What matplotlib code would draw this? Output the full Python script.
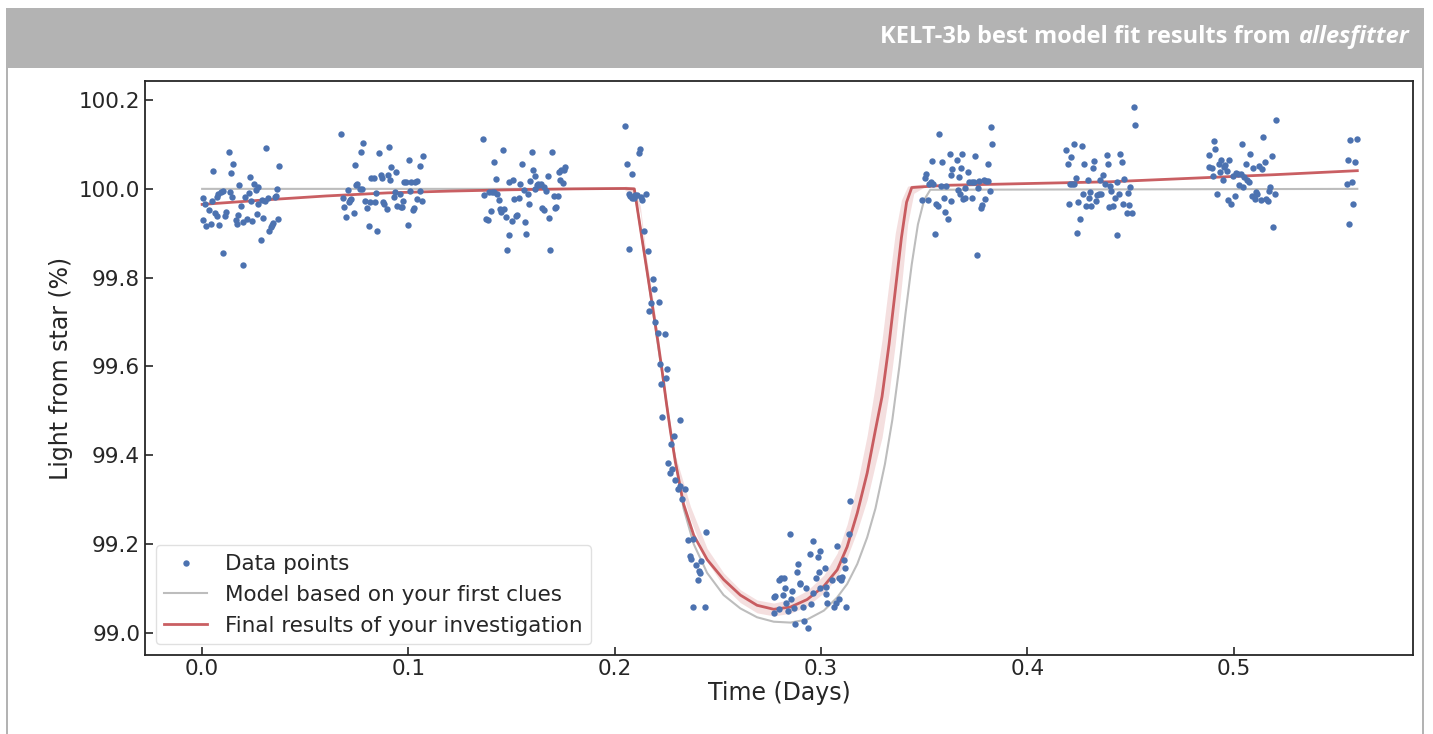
import numpy as np
import matplotlib
matplotlib.use("Agg")
import matplotlib.pyplot as plt
from matplotlib.patches import Rectangle

# ---------------- data ----------------
t_g1 = [0.0006, 0.0015, 0.0003, 0.0019, 0.0031, 0.0042, 0.0052, 0.0047, 0.0071, 0.0079, 0.0091, 0.0099,
        0.0063, 0.0071, 0.0081, 0.0103, 0.0110, 0.0115, 0.0128, 0.0133, 0.0139, 0.0147, 0.0150, 0.0162,
        0.0168, 0.0176, 0.0179, 0.0187, 0.0200, 0.0197, 0.0208, 0.0217, 0.0226, 0.0233, 0.0236, 0.0242,
        0.0252, 0.0260, 0.0265, 0.0270, 0.0273, 0.0284, 0.0289, 0.0297, 0.0305, 0.0310, 0.0320, 0.0326,
        0.0333, 0.0338, 0.0343, 0.0354, 0.0359, 0.0362, 0.0367, 0.0372]
f_g1 = [99.979, 99.967, 99.930, 99.917, 99.952, 99.922, 100.041, 99.973, 99.982, 99.988, 99.992, 99.995,
        99.945, 99.940, 99.919, 99.856, 99.938, 99.949, 100.084, 99.994, 100.036, 99.982, 100.057, 99.930,
        99.922, 99.941, 100.009, 99.961, 99.829, 99.926, 99.982, 99.932, 99.991, 100.026, 99.973, 99.928,
        100.012, 99.997, 99.943, 99.967, 100.005, 99.885, 99.976, 99.935, 99.973, 100.091, 99.979, 99.905,
        99.913, 99.919, 99.923, 99.982, 99.984, 100.000, 99.932, 100.052]

t_g2 = [0.0672, 0.0682, 0.0689, 0.0695, 0.0705, 0.0711, 0.0718, 0.0724, 0.0734, 0.0740, 0.0745, 0.0753,
        0.0763, 0.0769, 0.0774, 0.0779, 0.0790, 0.0799, 0.0808, 0.0815, 0.0820, 0.0831, 0.0839, 0.0844,
        0.0849, 0.0855, 0.0867, 0.0871, 0.0879, 0.0884, 0.0896, 0.0899, 0.0905, 0.0912, 0.0917, 0.0928,
        0.0936, 0.0941, 0.0947, 0.0957, 0.0963, 0.0970, 0.0976, 0.0980, 0.0989, 0.0997, 0.1002, 0.1009,
        0.1014, 0.1022, 0.1028, 0.1033, 0.1041, 0.1044, 0.1054, 0.1057, 0.1065, 0.1073]
f_g2 = [100.123, 99.980, 99.959, 99.937, 99.998, 99.970, 99.974, 99.977, 99.946, 100.054, 100.009, 100.010,
        99.999, 100.084, 99.999, 100.103, 99.973, 99.958, 99.916, 99.970, 100.025, 100.025, 99.970, 99.991,
        99.904, 100.081, 100.031, 100.025, 99.970, 99.967, 99.954, 100.031, 100.094, 100.020, 100.049, 99.982,
        99.994, 100.039, 99.961, 99.988, 99.960, 99.959, 99.973, 100.015, 100.015, 99.919, 100.064, 99.996,
        100.015, 99.952, 99.956, 100.015, 100.018, 99.977, 100.052, 99.996, 99.973, 100.073]

t_g3 = [0.1361, 0.1368, 0.1377, 0.1384, 0.1389, 0.1400, 0.1405, 0.1413, 0.1416, 0.1423, 0.1429, 0.1439,
        0.1445, 0.1448, 0.1457, 0.1461, 0.1473, 0.1478, 0.1486, 0.1490, 0.1502, 0.1507, 0.1513, 0.1520,
        0.1526, 0.1536, 0.1542, 0.1549, 0.1558, 0.1565, 0.1571, 0.1578, 0.1583, 0.1588, 0.1599, 0.1605,
        0.1612, 0.1615, 0.1623, 0.1628, 0.1634, 0.1642, 0.1647, 0.1655, 0.1659, 0.1668, 0.1675, 0.1681,
        0.1686, 0.1696, 0.1704, 0.1712, 0.1717, 0.1723, 0.1730, 0.1736, 0.1740, 0.1747, 0.1752, 0.1760]
f_g3 = [100.113, 99.986, 99.932, 99.930, 99.994, 99.950, 99.994, 99.994, 100.060, 100.023, 99.988, 99.974,
        99.955, 99.947, 100.087, 99.955, 99.937, 99.863, 99.895, 100.016, 99.928, 100.019, 99.977, 99.940,
        99.941, 99.980, 100.012, 100.057, 99.997, 99.925, 99.898, 99.988, 99.967, 100.018, 100.082, 100.042,
        99.999, 100.029, 100.009, 100.012, 100.009, 100.010, 99.956, 99.953, 100.005, 99.996, 100.030, 99.935,
        99.863, 100.082, 99.983, 99.958, 99.959, 99.985, 100.037, 100.020, 100.042, 100.014, 100.043, 100.049]

t_tr = [0.2051, 0.2059, 0.2069, 0.2085, 0.2068, 0.2076, 0.2084, 0.2092, 0.2100, 0.2108, 0.2116, 0.2121,
        0.2127, 0.2134, 0.2152, 0.2144, 0.2160,
        0.2186, 0.2192, 0.2178, 0.2213, 0.2168, 0.2194, 0.2208, 0.2242, 0.2218, 0.2254, 0.2249, 0.2223,
        0.2229, 0.2315, 0.2288, 0.2275, 0.2260, 0.2278, 0.2270, 0.2291, 0.2305, 0.2315, 0.2341, 0.2325,
        0.2443, 0.2355, 0.2380, 0.2367, 0.2372, 0.2393, 0.2420, 0.2407, 0.2415, 0.2402, 0.2380, 0.2436]
f_tr = [100.142, 100.055, 99.865, 100.033, 99.988, 99.984, 99.980, 99.980, 99.986, 99.986, 100.080, 100.090,
        99.982, 99.975, 99.988, 99.905, 99.859,
        99.797, 99.775, 99.744, 99.746, 99.725, 99.699, 99.675, 99.672, 99.605, 99.594, 99.573, 99.560,
        99.486, 99.480, 99.444, 99.425, 99.382, 99.369, 99.361, 99.345, 99.324, 99.330, 99.324, 99.302,
        99.227, 99.209, 99.211, 99.173, 99.166, 99.153, 99.162, 99.140, 99.134, 99.118, 99.059, 99.057]

t_bot = [0.3139, 0.2848, 0.2962, 0.3134, 0.2994, 0.2945, 0.2984, 0.3078, 0.2887, 0.2884, 0.2989, 0.3018,
         0.3110, 0.3118, 0.2806, 0.2822, 0.2795, 0.2976, 0.3054, 0.3086, 0.3102, 0.3097, 0.2900, 0.2897,
         0.2929, 0.2827, 0.2860, 0.2993, 0.3026, 0.3023, 0.2960, 0.2779, 0.2771, 0.2816, 0.2855, 0.2832,
         0.2795, 0.2771, 0.2839, 0.2868, 0.2913, 0.2953, 0.3030, 0.3062, 0.3071, 0.3086, 0.3123, 0.2876,
         0.2916, 0.2937]
f_bot = [99.296, 99.222, 99.206, 99.222, 99.185, 99.177, 99.170, 99.196, 99.155, 99.138, 99.138, 99.146,
         99.163, 99.147, 99.123, 99.123, 99.118, 99.123, 99.119, 99.123, 99.125, 99.118, 99.110, 99.113,
         99.102, 99.102, 99.095, 99.100, 99.104, 99.087, 99.089, 99.082, 99.080, 99.086, 99.076, 99.068,
         99.053, 99.044, 99.050, 99.056, 99.059, 99.065, 99.068, 99.059, 99.067, 99.076, 99.059, 99.020,
         99.027, 99.010]

t_g5 = [0.3490, 0.3518, 0.3502, 0.3510, 0.3524, 0.3534, 0.3544, 0.3537, 0.3553, 0.3560, 0.3566, 0.3571,
        0.3582, 0.3589, 0.3595, 0.3602, 0.3607, 0.3618, 0.3625, 0.3631, 0.3636, 0.3630, 0.3657, 0.3666,
        0.3670, 0.3675, 0.3681, 0.3686, 0.3687, 0.3697, 0.3699, 0.3713, 0.3720, 0.3731, 0.3733, 0.3744,
        0.3749, 0.3754, 0.3760, 0.3768, 0.3778, 0.3783, 0.3789, 0.3794, 0.3801, 0.3809, 0.3812, 0.3818,
        0.3823, 0.3830]
f_g5 = [99.975, 99.975, 100.025, 100.034, 100.010, 100.015, 100.012, 100.063, 99.898, 99.967, 99.962, 100.123,
        100.007, 100.060, 99.980, 99.949, 100.007, 99.932, 100.078, 100.031, 100.045, 99.973, 100.065, 99.997,
        100.026, 99.988, 100.048, 100.078, 99.977, 99.980, 100.001, 100.039, 100.015, 99.980, 100.015, 100.015,
        100.074, 99.850, 100.003, 100.018, 99.956, 99.964, 100.020, 99.977, 100.018, 100.018, 100.055, 99.996,
        100.140, 100.100]

t_g6 = [0.4190, 0.4197, 0.4202, 0.4206, 0.4213, 0.4218, 0.4226, 0.4229, 0.4237, 0.4242, 0.4248, 0.4258,
        0.4264, 0.4271, 0.4276, 0.4285, 0.4294, 0.4299, 0.4303, 0.4310, 0.4319, 0.4324, 0.4333, 0.4339,
        0.4347, 0.4353, 0.4358, 0.4367, 0.4375, 0.4385, 0.4391, 0.4396, 0.4400, 0.4407, 0.4415, 0.4424,
        0.4433, 0.4436, 0.4447, 0.4452, 0.4460, 0.4465, 0.4471, 0.4484, 0.4487, 0.4494, 0.4500, 0.4510,
        0.4517, 0.4523]
f_g6 = [100.087, 100.055, 99.965, 100.010, 100.072, 100.010, 100.010, 100.102, 100.025, 99.901, 99.970, 99.932,
        100.097, 99.988, 100.055, 99.962, 100.020, 99.980, 99.994, 99.962, 100.048, 100.063, 99.973, 99.986,
        99.989, 100.020, 99.989, 100.031, 100.010, 100.076, 100.055, 99.959, 100.007, 99.995, 99.962, 99.980,
        100.015, 99.896, 99.988, 100.078, 100.060, 99.967, 100.022, 99.945, 99.991, 99.964, 100.005, 99.945,
        100.185, 100.145]

t_g7 = [0.4879, 0.4882, 0.4897, 0.4902, 0.4906, 0.4911, 0.4918, 0.4929, 0.4934, 0.4940, 0.4947, 0.4953,
        0.4961, 0.4969, 0.4975, 0.4980, 0.4990, 0.4998, 0.5005, 0.5010, 0.5021, 0.5027, 0.5034, 0.5039,
        0.5044, 0.5050, 0.5060, 0.5066, 0.5073, 0.5079, 0.5089, 0.5095, 0.5102, 0.5108, 0.5115, 0.5123,
        0.5131, 0.5136, 0.5141, 0.5152, 0.5158, 0.5165, 0.5171, 0.5176, 0.5187, 0.5192, 0.5199, 0.5204]
f_g7 = [100.076, 100.050, 100.046, 100.029, 100.108, 100.090, 99.988, 100.057, 100.039, 100.065, 100.020, 100.050,
        100.054, 100.040, 99.975, 100.065, 99.965, 100.030, 99.983, 100.035, 100.033, 100.009, 100.033, 100.100,
        100.004, 100.027, 100.057, 100.020, 100.015, 100.079, 99.985, 100.048, 99.977, 99.994, 99.989, 100.052,
        99.975, 100.045, 100.116, 100.060, 99.977, 99.973, 99.995, 100.005, 100.073, 99.913, 99.988, 100.156]

t_g8 = [0.5548, 0.5555, 0.5559, 0.5567, 0.5576, 0.5580, 0.5587, 0.5600]
f_g8 = [100.010, 100.065, 99.922, 100.110, 100.015, 99.967, 100.060, 100.113]

# initial-guess model (gray)
t_init = [0.0, 0.2095, 0.2110, 0.2150, 0.2190, 0.2230, 0.2270, 0.2334, 0.2383, 0.2448, 0.2528, 0.2609,
          0.2690, 0.2771, 0.2852, 0.2933, 0.3014, 0.3079, 0.3127, 0.3176, 0.3224, 0.3264, 0.3310, 0.3346,
          0.3380, 0.3410, 0.3440, 0.3470, 0.3500, 0.3530, 0.5600]
f_init = [100.0, 100.0, 99.955, 99.835, 99.71, 99.585, 99.455, 99.28, 99.20, 99.135, 99.085, 99.055,
          99.035, 99.025, 99.023, 99.030, 99.050, 99.080, 99.110, 99.155, 99.215, 99.280, 99.380, 99.480,
          99.600, 99.720, 99.830, 99.920, 99.975, 99.998, 100.0]

# final fit (red)
t_fit = [0.0, 0.03, 0.06, 0.09, 0.12, 0.15, 0.18, 0.205, 0.2095, 0.2110, 0.2130, 0.2150, 0.2170, 0.2190,
         0.2210, 0.2230, 0.2250, 0.2270, 0.2294, 0.2334, 0.2383, 0.2448, 0.2528, 0.2609, 0.2690, 0.2771,
         0.2852, 0.2933, 0.3014, 0.3079, 0.3127, 0.3176, 0.3224, 0.3264, 0.3296, 0.3330, 0.3360, 0.3390,
         0.3415, 0.3440, 0.3600, 0.4000, 0.4400, 0.4800, 0.5200, 0.5600]
f_fit = [99.965, 99.975, 99.984, 99.991, 99.995, 99.998, 100.0, 100.001, 100.0, 99.955, 99.895, 99.835,
         99.775, 99.715, 99.655, 99.59, 99.52, 99.455, 99.385, 99.29, 99.22, 99.165, 99.12, 99.085, 99.062,
         99.053, 99.058, 99.075, 99.105, 99.142, 99.194, 99.27, 99.36, 99.457, 99.532, 99.65, 99.77, 99.89,
         99.97, 100.003, 100.008, 100.012, 100.016, 100.024, 100.032, 100.041]

# spread of posterior samples (light red band)
t_band = [0.2050, 0.2092, 0.2124, 0.2156, 0.2189, 0.2237, 0.2294, 0.2367, 0.2448, 0.2528, 0.2609, 0.2690,
          0.2771, 0.2852, 0.2933, 0.3014, 0.3079, 0.3127, 0.3176, 0.3224, 0.3264, 0.3296, 0.3330, 0.3360,
          0.3390, 0.3420, 0.3450, 0.3500]
f_band_hi = [100.006, 100.004, 99.962, 99.84, 99.74, 99.57, 99.40, 99.285, 99.19, 99.135, 99.097, 99.074,
             99.067, 99.075, 99.095, 99.13, 99.18, 99.245, 99.335, 99.445, 99.56, 99.66, 99.79, 99.90, 99.975,
             100.006, 100.009, 100.011]
f_band_lo = [99.996, 99.992, 99.945, 99.82, 99.72, 99.545, 99.37, 99.255, 99.16, 99.105, 99.068, 99.045,
             99.038, 99.044, 99.060, 99.09, 99.125, 99.17, 99.23, 99.30, 99.38, 99.44, 99.54, 99.65, 99.78,
             99.92, 99.99, 100.004]

xticks = [0.0, 0.1, 0.2, 0.3, 0.4, 0.5]
yticks = [99.0, 99.2, 99.4, 99.6, 99.8, 100.0, 100.2]

title_main = "KELT-3b best model fit results from"
title_ital = "allesfitter"

# ---------------- figure ----------------
W, H = 1433, 734
fig = plt.figure(figsize=(W / 100, H / 100), dpi=100)
fig.patch.set_facecolor("white")

frame_col = "#b3b3b3"
# header bar
fig.add_artist(Rectangle((6 / W, 1 - 68 / H), (1424 - 6) / W, 60 / H, transform=fig.transFigure,
                         facecolor=frame_col, edgecolor="none", zorder=0))
# side borders
fig.add_artist(Rectangle((6 / W, 0), 2.2 / W, 1 - 68 / H, transform=fig.transFigure,
                         facecolor=frame_col, edgecolor="none", zorder=0))
fig.add_artist(Rectangle((1421.8 / W, 0), 2.2 / W, 1 - 68 / H, transform=fig.transFigure,
                         facecolor=frame_col, edgecolor="none", zorder=0))

t_it = fig.text(1410 / W, 1 - 37 / H, title_ital, ha="right", va="center", color="white",
                fontsize=17, fontweight="bold", style="italic", family="Open Sans")
fig.canvas.draw()
ext = t_it.get_window_extent()
fig.text((ext.x0 - 8) / W, 1 - 37 / H, title_main, ha="right", va="center", color="white",
         fontsize=17, fontweight="bold", family="Open Sans")

ax = fig.add_axes([145 / W, 1 - 655 / H, (1413 - 145) / W, (655 - 81) / H])

blue = "#4c72b0"
red = "#c44e52"
gray = "#bdbdbd"

t_all = t_g1 + t_g2 + t_g3 + t_tr + t_bot + t_g5 + t_g6 + t_g7 + t_g8
f_all = f_g1 + f_g2 + f_g3 + f_tr + f_bot + f_g5 + f_g6 + f_g7 + f_g8

ax.fill_between(t_band, f_band_lo, f_band_hi, color=red, alpha=0.18, lw=0, zorder=2)
ax.plot(t_init, f_init, color=gray, lw=1.5, zorder=3, label="Model based on your first clues")
ax.plot(t_fit, f_fit, color=red, lw=2.0, alpha=0.9, zorder=4, label="Final results of your investigation")
ax.plot(t_all, f_all, ls="none", marker="o", ms=4.6, mew=0, color=blue, zorder=5, label="Data points")

ax.set_xlim(-0.0277, 0.587)
ax.set_ylim(98.95, 100.243)
ax.set_xticks(xticks)
ax.set_yticks(yticks)
ax.set_xticklabels([f"{v:.1f}" for v in xticks])
ax.set_yticklabels([f"{v:.1f}" for v in yticks])

txt_col = "#262626"
ax.tick_params(direction="in", length=6, width=1.2, labelsize=15.5, colors=txt_col)
ax.tick_params(axis="x", pad=3)
ax.tick_params(axis="y", pad=3.5)
for s in ax.spines.values():
    s.set_color("#262626")
    s.set_linewidth(1.3)

ax.set_xlabel("Time (Days)", fontsize=17, color=txt_col, labelpad=1)
ax.set_ylabel("Light from star (%)", fontsize=17, color=txt_col, labelpad=4)

handles, labels = ax.get_legend_handles_labels()
order = [2, 0, 1]
leg = ax.legend([handles[i] for i in order], [labels[i] for i in order], loc="lower left",
                fontsize=15.5, frameon=True, fancybox=True, borderaxespad=0.5,
                handlelength=2.0, labelcolor=txt_col)
leg.get_frame().set_edgecolor("#d9d9d9")
leg.get_frame().set_linewidth(1.0)

fig.savefig("out.png", dpi=100, facecolor="white")
